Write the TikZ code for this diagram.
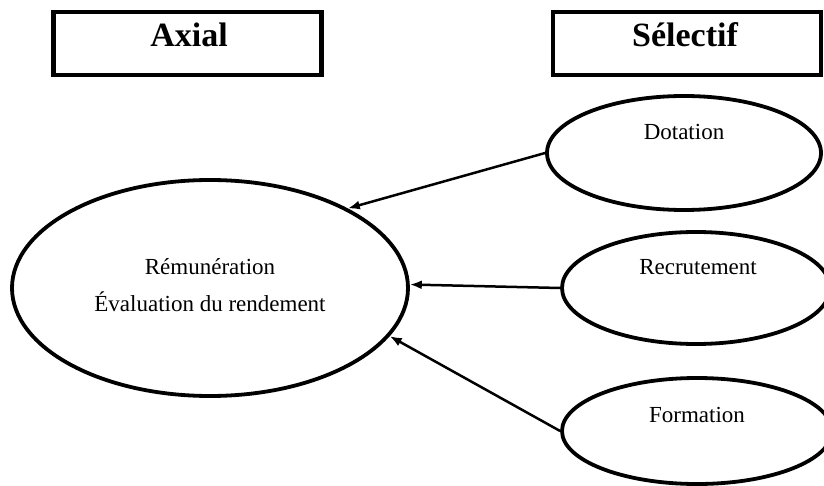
\documentclass[tikz,border=0pt]{standalone}
\usepackage{fontspec}
\setmainfont{Liberation Serif}
\usetikzlibrary{shapes.geometric,arrows.meta}
\begin{document}
\begin{tikzpicture}[x=0.5pt,y=-0.5pt,
    titlebox/.style={draw,line width=2.4pt,minimum width=134pt,minimum height=31.5pt},
    titletext/.style={anchor=base,font=\fontsize{17}{20}\selectfont\bfseries},
    bubble/.style={draw,ellipse,line width=1.9pt,inner sep=0pt},
    bubbletext/.style={anchor=base,font=\fontsize{11.5}{14}\selectfont},
    link/.style={-{Latex[length=6pt,width=4.5pt]},line width=1.25pt},
  ]
  \useasboundingbox (0,0) rectangle (824,486);
  % titles
  \node[titlebox] (axial) at (187.5,43.5) {};
  \node[titletext] (axialtxt) at (189,47) {Axial};
  \node[titlebox] (selectif) at (687,43.5) {};
  \node[titletext] (selectiftxt) at (685,47) {Sélectif};
  % central activity
  \node[bubble,minimum width=198pt,minimum height=108pt] (remun) at (210,288) {};
  \node[bubbletext] (remuntxt) at (210,274) {Rémunération};
  \node[bubbletext] (evaltxt) at (210,311) {Évaluation du rendement};
  % selective activities
  \node[bubble,minimum width=137pt,minimum height=57pt] (dot) at (684,153) {};
  \node[bubbletext] (dottxt) at (684,140) {Dotation};
  \node[bubble,minimum width=134pt,minimum height=56pt] (recr) at (696,288) {};
  \node[bubbletext] (recrtxt) at (698,274) {Recrutement};
  \node[bubble,minimum width=135pt,minimum height=53pt] (form) at (697,431) {};
  \node[bubbletext] (formtxt) at (697,422) {Formation};
  % links
  \draw[link] (dot.west) -- (remun.30);
  \draw[link] (recr.west) -- (remun.1.5);
  \draw[link] (form.west) -- (remun.-15.8);
\end{tikzpicture}
\end{document}
